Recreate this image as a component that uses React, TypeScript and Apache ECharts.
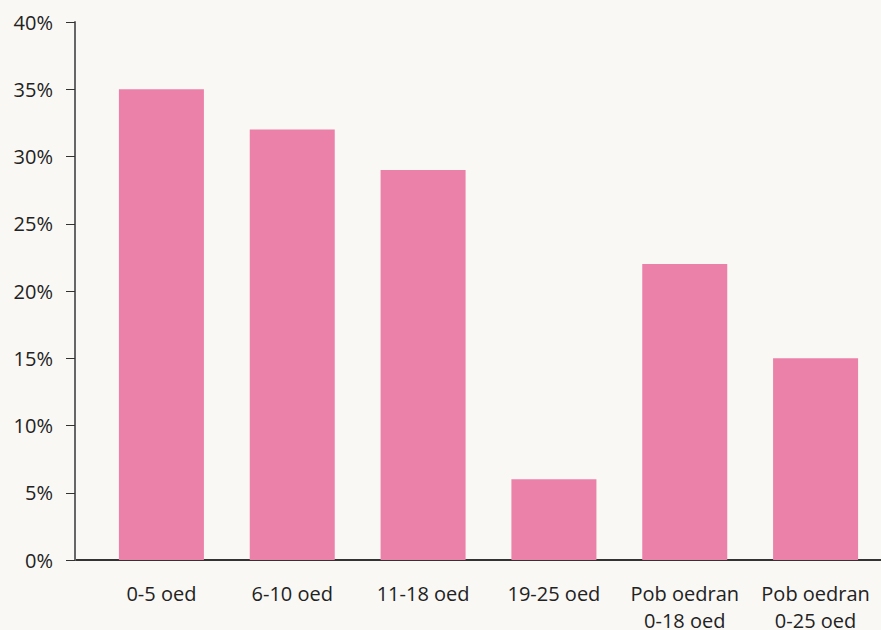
import React, { useEffect, useRef } from "react";
import * as echarts from "echarts";

const categories = ["0-5 oed", "6-10 oed", "11-18 oed", "19-25 oed", "Pob oedran\n0-18 oed", "Pob oedran\n0-25 oed"];
const values = [35, 32, 29, 6, 22, 15];
const yTicks = [0, 5, 10, 15, 20, 25, 30, 35, 40];

export default function App() {
  const ref = useRef<HTMLDivElement>(null);
  useEffect(() => {
    if (!ref.current) return;
    const chart = echarts.init(ref.current, null, { renderer: "svg" });
    const font = "'Open Sans', 'Noto Sans', sans-serif";
    chart.setOption({
      animation: false,
      backgroundColor: "#f9f8f4",
      grid: { left: 96, top: 22, width: 785, height: 538, containLabel: false, outerBoundsMode: "none" },
      xAxis: {
        type: "category",
        data: categories,
        axisLine: { show: true, lineStyle: { color: "#333", width: 2 } },
        axisTick: { show: false },
        axisLabel: { color: "#222", fontSize: 20, fontFamily: font, lineHeight: 27, margin: 20, interval: 0 },
      },
      yAxis: {
        type: "value",
        min: yTicks[0],
        max: yTicks[yTicks.length - 1],
        interval: 5,
        offset: 21,
        axisLine: { show: true, lineStyle: { color: "#666", width: 2 } },
        axisTick: { show: true, length: 9, lineStyle: { color: "#333", width: 1 } },
        splitLine: { show: false },
        axisLabel: { color: "#222", fontSize: 20, fontFamily: font, margin: 22, formatter: "{value}%" },
      },
      graphic: [
        { type: "line", shape: { x1: 75, y1: 560, x2: 97, y2: 560 }, style: { stroke: "#333", lineWidth: 2 } },
      ],
      series: [
        {
          type: "bar",
          data: values,
          barWidth: 85,
          itemStyle: { color: "#eb80a8" },
        },
      ],
    });
    return () => chart.dispose();
  }, []);
  return <div ref={ref} style={{ position: "absolute", left: 0, top: 0, width: 881, height: 630 }} />;
}
